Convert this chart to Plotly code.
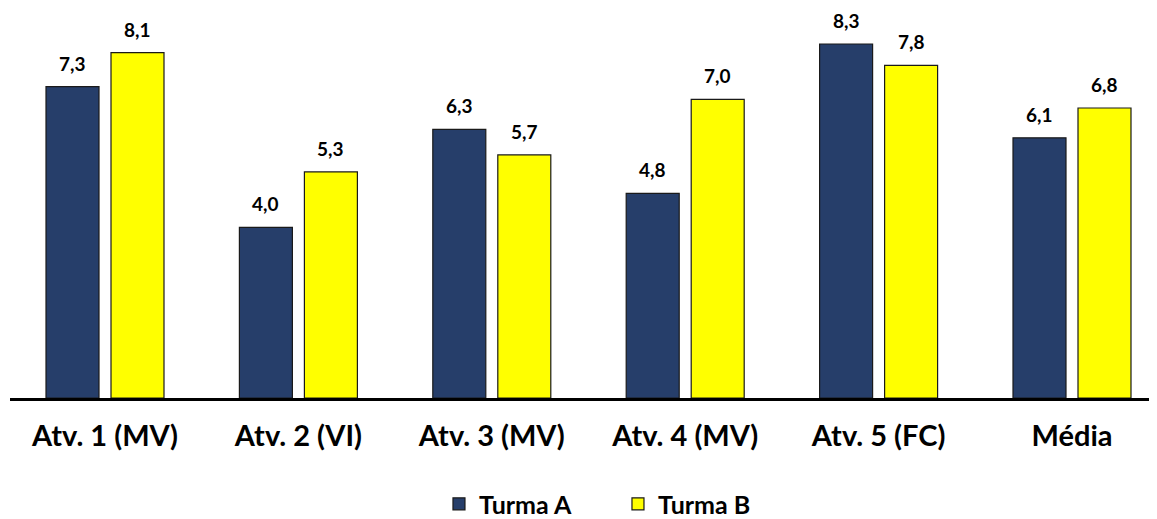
import plotly.graph_objects as go

categories = ["Atv. 1 (MV)", "Atv. 2 (VI)", "Atv. 3 (MV)", "Atv. 4 (MV)", "Atv. 5 (FC)", "Média"]
turma_a = [7.3, 4.0, 6.3, 4.8, 8.3, 6.1]
turma_b = [8.1, 5.3, 5.7, 7.0, 7.8, 6.8]
series_names = ["Turma A", "Turma B"]
colors = ["#263E6A", "#FFFF00"]

FONT = "Lato"
# page body has an 8px margin: figure is sized/shifted to compensate
W, H = 1149, 511
px_per_cat = 193.4
cat0_px = 97          # centre of first category in figure px
base_px = 390         # baseline in figure px
px_per_unit = 42.65

bar_w = 53 / px_per_cat
offsets = [-59 / px_per_cat, 6 / px_per_cat]
label_shift = [-32.5, 32.5]

fig = go.Figure()
for name, vals, col, off in zip(series_names, [turma_a, turma_b], colors, offsets):
    fig.add_trace(go.Bar(
        x=categories, y=vals, name=name,
        marker=dict(color=col, line=dict(color="#1a1a1a", width=1.2)),
        width=bar_w, offset=off,
    ))

annotations = []
for vals, xs in zip([turma_a, turma_b], label_shift):
    for c, v in zip(categories, vals):
        annotations.append(dict(
            x=c, y=v, xref="x", yref="y", text=f"{v:.1f}".replace(".", ","),
            showarrow=False, xshift=xs, yshift=11, yanchor="bottom", borderpad=0,
            font=dict(family=FONT, size=19, color="black", weight="bold"),
        ))

left = 2
x0 = (left - cat0_px) / px_per_cat
x1 = (W - cat0_px) / px_per_cat

fig.update_layout(
    width=W, height=H,
    margin=dict(l=left, r=0, t=0, b=H - base_px, autoexpand=False),
    plot_bgcolor="white", paper_bgcolor="white",
    barmode="overlay",
    annotations=annotations,
    showlegend=True,
    legend=dict(
        orientation="h", x=0.374, xanchor="left", y=-0.272, yanchor="middle",
        font=dict(family=FONT, size=25, color="black", weight="bold"),
        entrywidth=134, itemclick=False,
    ),
    xaxis=dict(
        range=[x0, x1], showline=True, linecolor="black", linewidth=3,
        showgrid=False, ticks="", ticklabelstandoff=10, automargin=False,
        tickfont=dict(family=FONT, size=29, color="black", weight="bold"),
    ),
    yaxis=dict(range=[0, base_px / px_per_unit], visible=False, showgrid=False,
               zeroline=False, automargin=False),
)

fig.write_html("out.html")
